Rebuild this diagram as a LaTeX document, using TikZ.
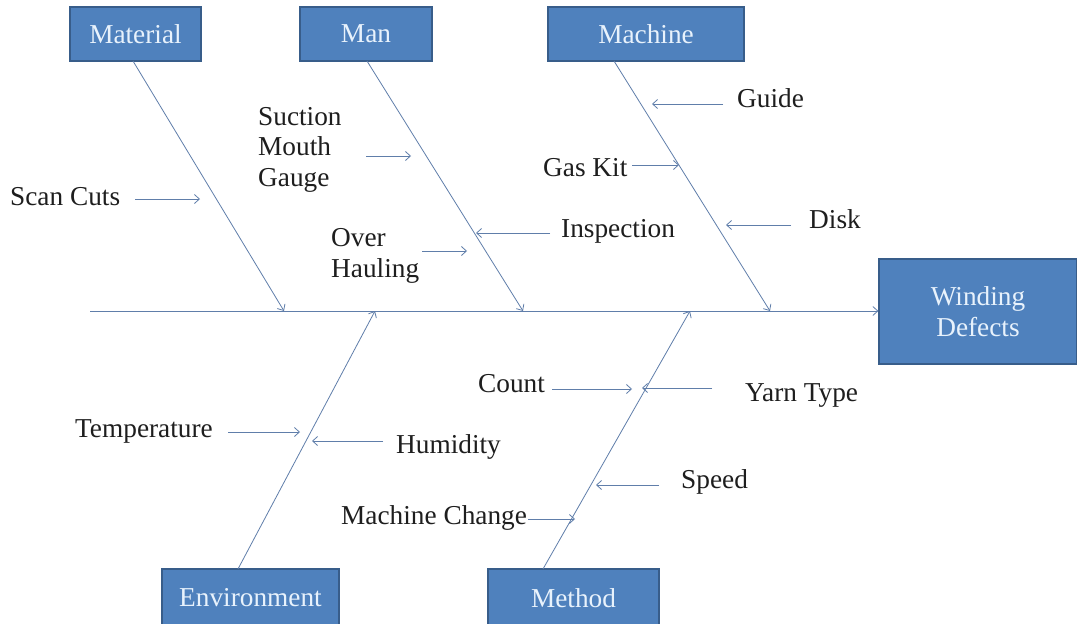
\documentclass[tikz,border=0pt]{standalone}
\usepackage{fontspec}
\setmainfont{Liberation Serif}
\usetikzlibrary{arrows.meta}
\definecolor{boxfill}{RGB}{79,129,189}
\definecolor{boxedge}{RGB}{56,93,138}
\definecolor{boxtext}{RGB}{232,242,252}
\definecolor{bone}{RGB}{96,126,170}
\definecolor{txt}{RGB}{30,30,30}
\begin{document}
\begin{tikzpicture}[x=1pt,y=-1pt,
  catbox/.style={draw=boxedge,line width=1.2pt,fill=boxfill,text=boxtext,inner sep=0pt,
    font=\fontsize{27.3}{30.5}\selectfont},
  lab/.style={anchor=mid west,text=txt,inner sep=0pt,font=\fontsize{27.3}{30.5}\selectfont,align=left},
  arr/.style={draw=bone,line width=0.8pt,-{Straight Barb[length=5pt,width=9pt]}}]
\useasboundingbox[fill=white] (0,0) rectangle (1077,624);
% category boxes
\node[catbox,minimum width=131pt,minimum height=54pt] (mat) at (135.5,34) {Material};
\node[catbox,minimum width=132pt,minimum height=54pt] (man) at (366,34) {Man};
\node[catbox,minimum width=196pt,minimum height=54pt] (mach) at (646,34) {Machine};
\node[catbox,minimum width=198pt,minimum height=105pt,align=center] (wd) at (978,311.5) {Winding\\Defects};
\begin{scope}
\clip (0,0) rectangle (1077,624);
\node[catbox,minimum width=177pt,minimum height=58pt] (env) at (250.5,598) {Environment};
\node[catbox,minimum width=171pt,minimum height=58pt] (meth) at (573.5,598) {Method};
\end{scope}
% spine
\coordinate (tail) at (90,311);
\draw[arr] (tail) -- (wd.west |- tail);
% bone ends
\coordinate (matT) at (133,61);   \coordinate (matB) at (284,311);
\coordinate (manT) at (367,61);   \coordinate (manB) at (523,311);
\coordinate (machT) at (614,61);  \coordinate (machB) at (770,311);
\coordinate (envT) at (238,569);  \coordinate (envB) at (375,311);
\coordinate (methT) at (543,569); \coordinate (methB) at (690,311);
\draw[arr] (matT) -- (matB);
\draw[arr] (manT) -- (manB);
\draw[arr] (machT) -- (machB);
\draw[arr] (envT) -- (envB);
\draw[arr] (methT) -- (methB);
% labels
\node[lab] (scan) at (10,203) {Scan Cuts};
\node[lab] (suc) at (258,184) {Suction\\Mouth\\Gauge};
\node[lab] (over) at (331,275) {Over\\Hauling};
\node[lab] (insp) at (561,235) {Inspection};
\node[lab] (guide) at (737,105) {Guide};
\node[lab] (gas) at (543,174) {Gas Kit};
\node[lab] (disk) at (809,226) {Disk};
\node[lab] (temp) at (75,435) {Temperature};
\node[lab] (hum) at (396,451) {Humidity};
\node[lab] (count) at (478,390) {Count};
\node[lab] (yarn) at (745,399) {Yarn Type};
\node[lab] (speed) at (681,486) {Speed};
\node[lab] (mc) at (341,522) {Machine Change};
% sub-arrow end points
\coordinate (scanA) at (135,199); \coordinate (scanB) at (200,199);
\coordinate (sucA) at (366,156);  \coordinate (sucB) at (411,156);
\coordinate (overA) at (422,251); \coordinate (overB) at (467,251);
\coordinate (inspA) at (550,233); \coordinate (inspB) at (476,233);
\coordinate (guideA) at (723,104); \coordinate (guideB) at (652,104);
\coordinate (gasA) at (632,165);  \coordinate (gasB) at (679,165);
\coordinate (diskA) at (791,225); \coordinate (diskB) at (726,225);
\coordinate (tempA) at (228,432); \coordinate (tempB) at (300,432);
\coordinate (humA) at (383,441);  \coordinate (humB) at (312,441);
\coordinate (countA) at (552,389); \coordinate (countB) at (632,389);
\coordinate (yarnA) at (712,388); \coordinate (yarnB) at (642,388);
\coordinate (speedA) at (659,485); \coordinate (speedB) at (596,485);
\coordinate (mcA) at (528,519);   \coordinate (mcB) at (575,519);
\foreach \n in {scan,suc,over,insp,guide,gas,disk,temp,hum,count,yarn,speed,mc}
  \draw[arr] (\n A) -- (\n B);
\end{tikzpicture}
\end{document}
